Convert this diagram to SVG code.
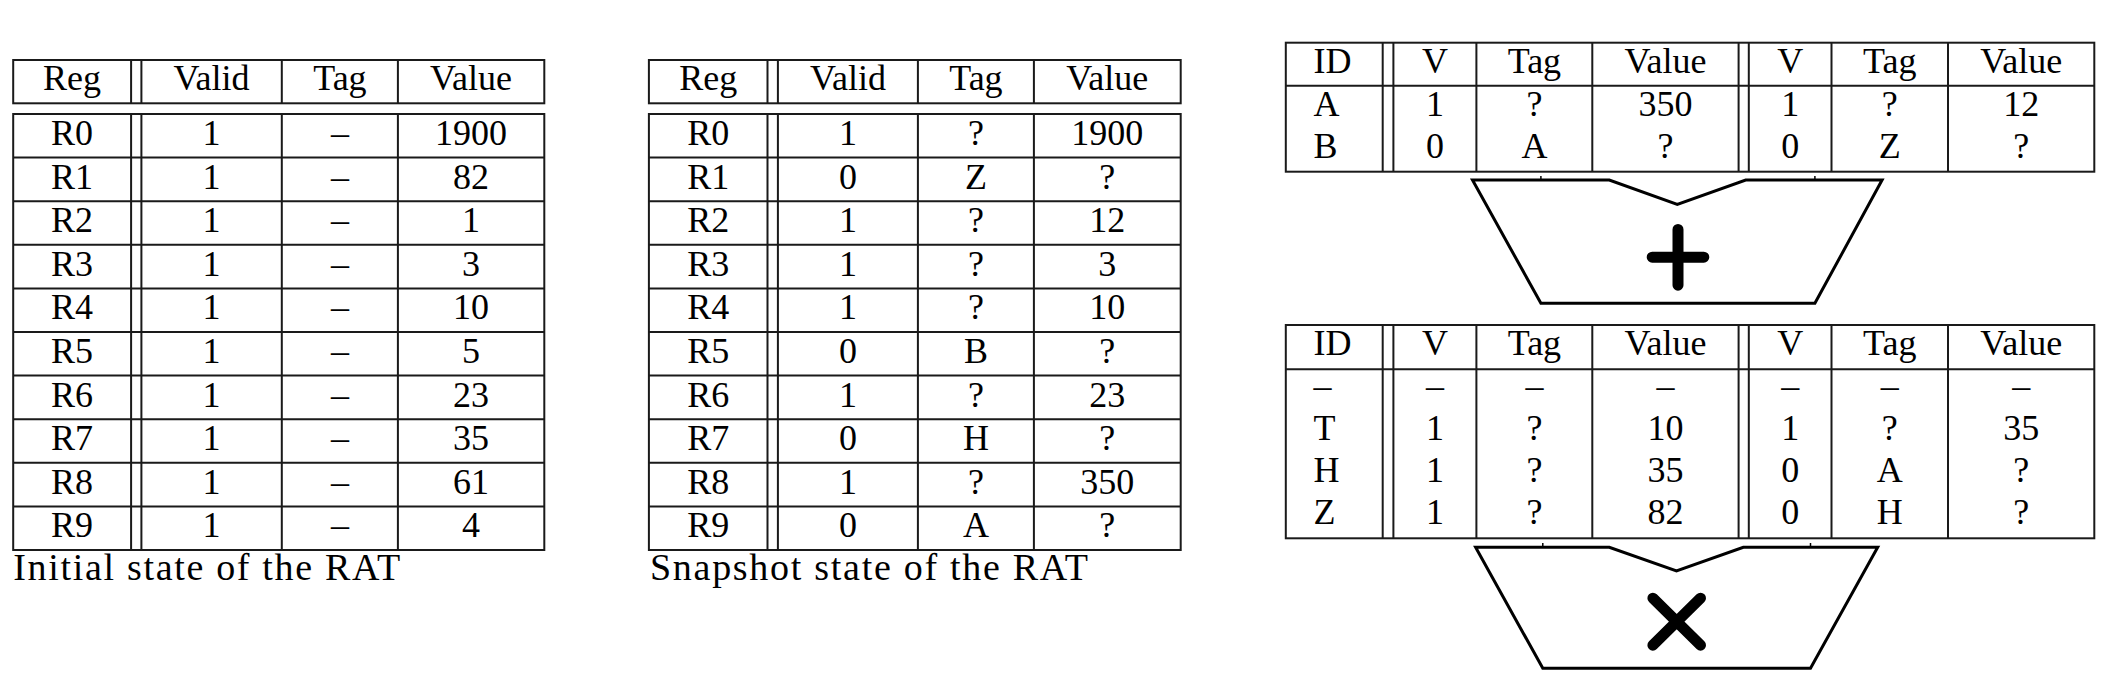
<svg xmlns="http://www.w3.org/2000/svg" width="2118" height="682" viewBox="0 0 2118 682">
<style>
.bg{fill:#ffffff}
.box{fill:none;stroke:#1a1a1a;stroke-width:2}
.ln{stroke:#1a1a1a;stroke-width:2}
.t{font-family:"Liberation Serif","DejaVu Serif",serif;font-size:36px;fill:#000;text-anchor:middle}
.tl{font-family:"Liberation Serif","DejaVu Serif",serif;font-size:36px;fill:#000;text-anchor:start}
.cap{font-family:"Liberation Serif","DejaVu Serif",serif;font-size:38px;fill:#000}
.unit{fill:#fff;stroke:#000;stroke-width:3;stroke-linejoin:miter}
.sym{stroke:#000;stroke-width:11;stroke-linecap:round;fill:none}
.tick{stroke:#000;stroke-width:1.5}
</style>
<rect class="bg" x="0" y="0" width="2118" height="682"/>

<g id="rat-initial">
  <rect class="box" x="13.2" y="60" width="531.1" height="43.3"/>
  <path class="ln" d="M131.1 60V103.3M141.4 60V103.3M281.8 60V103.3M397.9 60V103.3"/>
  <rect class="box" x="13.2" y="114" width="531.1" height="436"/>
  <path class="ln" d="M131.1 114V550M141.4 114V550M281.8 114V550M397.9 114V550"/>
  <path class="ln" d="M13.2 157.6H544.3M13.2 201.2H544.3M13.2 244.8H544.3M13.2 288.4H544.3M13.2 332H544.3M13.2 375.6H544.3M13.2 419.2H544.3M13.2 462.8H544.3M13.2 506.4H544.3"/>
  <g class="t">
    <text x="72.1" y="90">Reg</text><text x="211.6" y="90">Valid</text><text x="339.9" y="90">Tag</text><text x="471.1" y="90">Value</text>
    <text x="72.1" y="145">R0</text><text x="211.6" y="145">1</text><text x="339.9" y="145">–</text><text x="471.1" y="145">1900</text>
    <text x="72.1" y="188.6">R1</text><text x="211.6" y="188.6">1</text><text x="339.9" y="188.6">–</text><text x="471.1" y="188.6">82</text>
    <text x="72.1" y="232.2">R2</text><text x="211.6" y="232.2">1</text><text x="339.9" y="232.2">–</text><text x="471.1" y="232.2">1</text>
    <text x="72.1" y="275.8">R3</text><text x="211.6" y="275.8">1</text><text x="339.9" y="275.8">–</text><text x="471.1" y="275.8">3</text>
    <text x="72.1" y="319.4">R4</text><text x="211.6" y="319.4">1</text><text x="339.9" y="319.4">–</text><text x="471.1" y="319.4">10</text>
    <text x="72.1" y="363">R5</text><text x="211.6" y="363">1</text><text x="339.9" y="363">–</text><text x="471.1" y="363">5</text>
    <text x="72.1" y="406.6">R6</text><text x="211.6" y="406.6">1</text><text x="339.9" y="406.6">–</text><text x="471.1" y="406.6">23</text>
    <text x="72.1" y="450.2">R7</text><text x="211.6" y="450.2">1</text><text x="339.9" y="450.2">–</text><text x="471.1" y="450.2">35</text>
    <text x="72.1" y="493.8">R8</text><text x="211.6" y="493.8">1</text><text x="339.9" y="493.8">–</text><text x="471.1" y="493.8">61</text>
    <text x="72.1" y="537.4">R9</text><text x="211.6" y="537.4">1</text><text x="339.9" y="537.4">–</text><text x="471.1" y="537.4">4</text>
  </g>
  <text class="cap" x="13.2" y="580" textLength="387" lengthAdjust="spacing">Initial state of the RAT</text>
</g>

<g id="rat-snapshot">
  <rect class="box" x="648.9" y="60" width="531.8" height="43.3"/>
  <path class="ln" d="M767.5 60V103.3M777.9 60V103.3M917.9 60V103.3M1033.9 60V103.3"/>
  <rect class="box" x="648.9" y="114" width="531.8" height="436"/>
  <path class="ln" d="M767.5 114V550M777.9 114V550M917.9 114V550M1033.9 114V550"/>
  <path class="ln" d="M648.9 157.6H1180.7M648.9 201.2H1180.7M648.9 244.8H1180.7M648.9 288.4H1180.7M648.9 332H1180.7M648.9 375.6H1180.7M648.9 419.2H1180.7M648.9 462.8H1180.7M648.9 506.4H1180.7"/>
  <g class="t">
    <text x="708.2" y="90">Reg</text><text x="847.9" y="90">Valid</text><text x="975.9" y="90">Tag</text><text x="1107.3" y="90">Value</text>
    <text x="708.2" y="145">R0</text><text x="847.9" y="145">1</text><text x="975.9" y="145">?</text><text x="1107.3" y="145">1900</text>
    <text x="708.2" y="188.6">R1</text><text x="847.9" y="188.6">0</text><text x="975.9" y="188.6">Z</text><text x="1107.3" y="188.6">?</text>
    <text x="708.2" y="232.2">R2</text><text x="847.9" y="232.2">1</text><text x="975.9" y="232.2">?</text><text x="1107.3" y="232.2">12</text>
    <text x="708.2" y="275.8">R3</text><text x="847.9" y="275.8">1</text><text x="975.9" y="275.8">?</text><text x="1107.3" y="275.8">3</text>
    <text x="708.2" y="319.4">R4</text><text x="847.9" y="319.4">1</text><text x="975.9" y="319.4">?</text><text x="1107.3" y="319.4">10</text>
    <text x="708.2" y="363">R5</text><text x="847.9" y="363">0</text><text x="975.9" y="363">B</text><text x="1107.3" y="363">?</text>
    <text x="708.2" y="406.6">R6</text><text x="847.9" y="406.6">1</text><text x="975.9" y="406.6">?</text><text x="1107.3" y="406.6">23</text>
    <text x="708.2" y="450.2">R7</text><text x="847.9" y="450.2">0</text><text x="975.9" y="450.2">H</text><text x="1107.3" y="450.2">?</text>
    <text x="708.2" y="493.8">R8</text><text x="847.9" y="493.8">1</text><text x="975.9" y="493.8">?</text><text x="1107.3" y="493.8">350</text>
    <text x="708.2" y="537.4">R9</text><text x="847.9" y="537.4">0</text><text x="975.9" y="537.4">A</text><text x="1107.3" y="537.4">?</text>
  </g>
  <text class="cap" x="650" y="580" textLength="438" lengthAdjust="spacing">Snapshot state of the RAT</text>
</g>

<g id="add-operands">
  <rect class="box" x="1285.8" y="42.7" width="808.5" height="129"/>
  <path class="ln" d="M1285.8 85.7H2094.3"/>
  <path class="ln" d="M1382.7 42.7V171.7M1393.4 42.7V171.7M1476.4 42.7V171.7M1592.3 42.7V171.7M1738.6 42.7V171.7M1748.8 42.7V171.7M1831.5 42.7V171.7M1948 42.7V171.7"/>
  <text class="tl" x="1313.5" y="73.3">ID</text>
  <text class="tl" x="1313.5" y="116">A</text>
  <text class="tl" x="1313.5" y="158.3">B</text>
  <g class="t">
    <text x="1434.9" y="73.3">V</text><text x="1534.4" y="73.3">Tag</text><text x="1665.5" y="73.3">Value</text><text x="1790.2" y="73.3">V</text><text x="1889.8" y="73.3">Tag</text><text x="2021.2" y="73.3">Value</text>
    <text x="1434.9" y="116">1</text><text x="1534.4" y="116">?</text><text x="1665.5" y="116">350</text><text x="1790.2" y="116">1</text><text x="1889.8" y="116">?</text><text x="2021.2" y="116">12</text>
    <text x="1434.9" y="158.3">0</text><text x="1534.4" y="158.3">A</text><text x="1665.5" y="158.3">?</text><text x="1790.2" y="158.3">0</text><text x="1889.8" y="158.3">Z</text><text x="2021.2" y="158.3">?</text>
  </g>
</g>

<g id="adder">
  <polygon class="unit" points="1472.5,180 1609.3,180 1677.3,204.3 1745.7,180 1882.1,180 1814.9,303.3 1540.9,303.3"/>
  <path class="sym" d="M1678 229.5V285.2M1652.2 257.2H1703.8"/>
</g>

<g id="mul-operands">
  <rect class="box" x="1285.8" y="325" width="808.5" height="213.3"/>
  <path class="ln" d="M1285.8 369.3H2094.3"/>
  <path class="ln" d="M1382.7 325V538.3M1393.4 325V538.3M1476.4 325V538.3M1592.3 325V538.3M1738.6 325V538.3M1748.8 325V538.3M1831.5 325V538.3M1948 325V538.3"/>
  <text class="tl" x="1313.5" y="355">ID</text>
  <text class="tl" x="1313.5" y="398">–</text>
  <text class="tl" x="1313.5" y="440">T</text>
  <text class="tl" x="1313.5" y="482.3">H</text>
  <text class="tl" x="1313.5" y="524">Z</text>
  <g class="t">
    <text x="1434.9" y="355">V</text><text x="1534.4" y="355">Tag</text><text x="1665.5" y="355">Value</text><text x="1790.2" y="355">V</text><text x="1889.8" y="355">Tag</text><text x="2021.2" y="355">Value</text>
    <text x="1434.9" y="398">–</text><text x="1534.4" y="398">–</text><text x="1665.5" y="398">–</text><text x="1790.2" y="398">–</text><text x="1889.8" y="398">–</text><text x="2021.2" y="398">–</text>
    <text x="1434.9" y="440">1</text><text x="1534.4" y="440">?</text><text x="1665.5" y="440">10</text><text x="1790.2" y="440">1</text><text x="1889.8" y="440">?</text><text x="2021.2" y="440">35</text>
    <text x="1434.9" y="482.3">1</text><text x="1534.4" y="482.3">?</text><text x="1665.5" y="482.3">35</text><text x="1790.2" y="482.3">0</text><text x="1889.8" y="482.3">A</text><text x="2021.2" y="482.3">?</text>
    <text x="1434.9" y="524">1</text><text x="1534.4" y="524">?</text><text x="1665.5" y="524">82</text><text x="1790.2" y="524">0</text><text x="1889.8" y="524">H</text><text x="2021.2" y="524">?</text>
  </g>
</g>

<g id="multiplier">
  <polygon class="unit" points="1475.6,547.3 1609.3,547.3 1676.5,571 1743.3,547.3 1877.7,547.3 1810.5,668.3 1542.8,668.3"/>
  <path class="sym" d="M1652.9 598.2L1700.5 645.2M1700.5 598.2L1652.9 645.2"/>
</g>

<g id="connectors">
  <line class="tick" x1="1540.9" y1="176" x2="1540.9" y2="180"/>
  <line class="tick" x1="1814.9" y1="176" x2="1814.9" y2="180"/>
  <line class="tick" x1="1542.8" y1="543" x2="1542.8" y2="547.3"/>
  <line class="tick" x1="1810.5" y1="543" x2="1810.5" y2="547.3"/>
</g>
</svg>
